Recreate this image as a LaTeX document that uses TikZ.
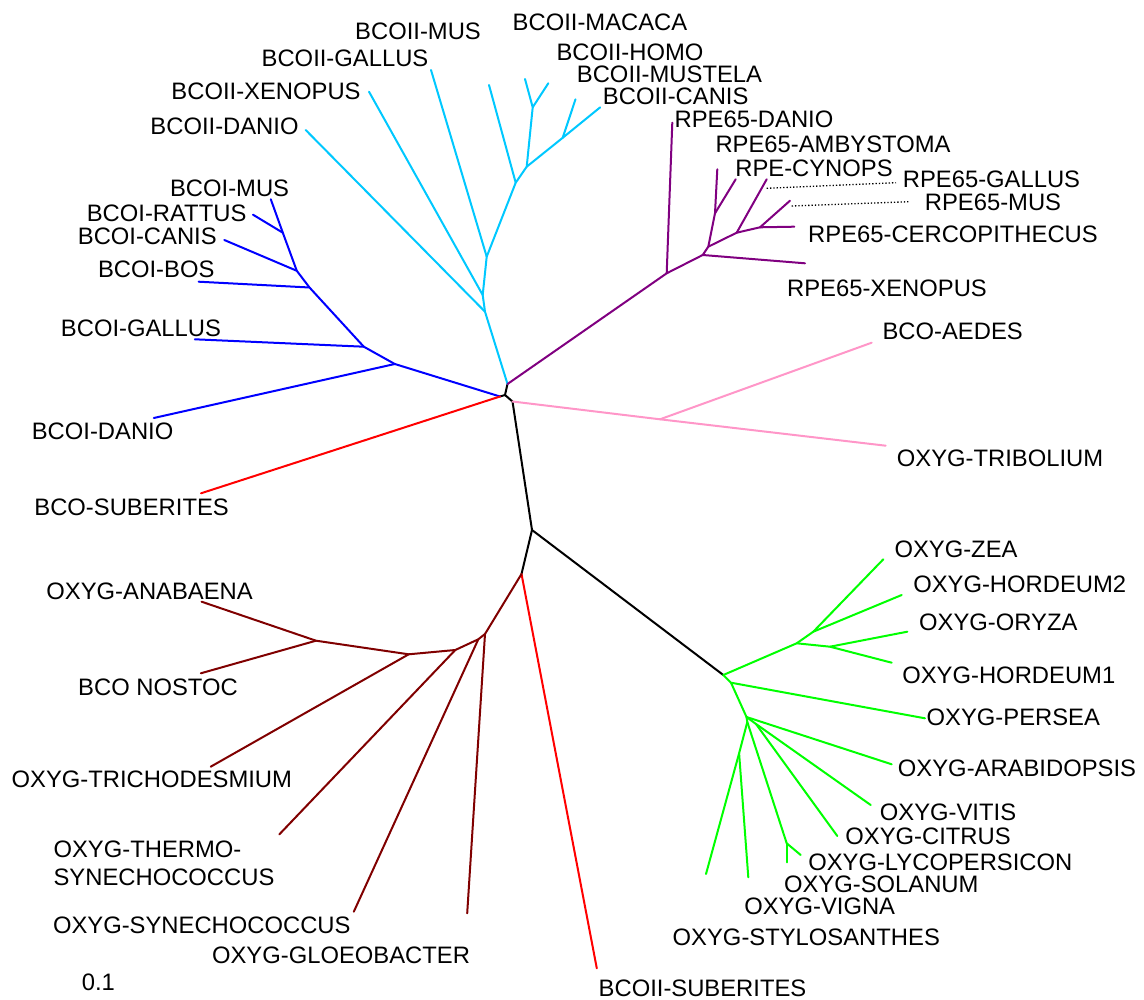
\documentclass[tikz,border=0pt]{standalone}
\usepackage{fontspec}
\setmainfont{Liberation Sans}
\definecolor{cyanc}{RGB}{0,200,255}
\definecolor{bluec}{RGB}{0,0,255}
\definecolor{redc}{RGB}{255,0,0}
\definecolor{purc}{RGB}{128,0,128}
\definecolor{pinkc}{RGB}{255,150,200}
\definecolor{brownc}{RGB}{128,0,0}
\definecolor{greenc}{RGB}{0,255,0}
\begin{document}
\begin{tikzpicture}[x=1pt,y=-1pt,
  edge/.style={line width=2pt,line cap=round,line join=round},
  dotlink/.style={dotted,line width=1.3pt},
  lbl/.style={font=\fontsize{23.8}{28}\selectfont,inner sep=0pt,anchor=base}]
\useasboundingbox (0,0) rectangle (1144,1000);
% core
\coordinate (A) at (507.5,384);
\coordinate (B) at (505,395);
\coordinate (Bb) at (500,396.5);
\coordinate (C) at (512.5,401.5);
\coordinate (D) at (532,530);
\coordinate (E) at (521.5,574);
% cyan
\coordinate (N1) at (485,311.7);
\coordinate (N2) at (482.7,295);
\coordinate (N3) at (486.7,256.7);
\coordinate (N4) at (515.7,182.7);
\coordinate (N5) at (526.7,166.7);
\coordinate (N6) at (532.7,107.3);
\coordinate (N7) at (562.7,137.8);
\coordinate (cDanio) at (305.7,130);
\coordinate (cXen) at (369,91.7);
\coordinate (cGal) at (431,70);
\coordinate (cMus) at (489,85);
\coordinate (cMac) at (525,79);
\coordinate (cHomo) at (548.3,83.3);
\coordinate (cMust) at (575.5,99.3);
\coordinate (cCanis) at (600.2,107.3);
% blue
\coordinate (b1) at (394.8,364);
\coordinate (b2) at (363.8,346.7);
\coordinate (b3) at (309.5,287.5);
\coordinate (b4) at (296.8,270.8);
\coordinate (b5) at (282.8,232.7);
\coordinate (bDanio) at (153.8,418);
\coordinate (bGal) at (194.8,339.3);
\coordinate (bBos) at (198.6,281.7);
\coordinate (bCanis) at (224.3,240);
\coordinate (bRat) at (253,214.7);
\coordinate (bMus) at (270.8,199.3);
\coordinate (rSub) at (201,493.3);
% purple
\coordinate (p1) at (666.7,273.3);
\coordinate (p2) at (702.7,255);
\coordinate (p3) at (708.3,246.7);
\coordinate (p4) at (715,213.3);
\coordinate (p5) at (736.7,232.7);
\coordinate (p6) at (760,227.3);
\coordinate (pDanio) at (672.3,122.7);
\coordinate (pXen) at (805,263.3);
\coordinate (pAmb) at (717.3,169.3);
\coordinate (pCyn) at (735.7,179.3);
\coordinate (pGal) at (766.7,179.3);
\coordinate (pMus) at (790,200.7);
\coordinate (pCerc) at (794.3,226.7);
\coordinate (dG1) at (766.7,188.3);
\coordinate (dG2) at (896,182.7);
\coordinate (dM1) at (791.7,206);
\coordinate (dM2) at (910,201.7);
% pink
\coordinate (k1) at (660,419.3);
\coordinate (kAedes) at (871.7,342.7);
\coordinate (kTrib) at (885.7,445.7);
% red 2
\coordinate (rSub2) at (596.8,968.3);
% brown
\coordinate (r1) at (485,634);
\coordinate (r2) at (478.3,639.3);
\coordinate (r3) at (455.3,650);
\coordinate (r4) at (408.7,654.3);
\coordinate (r5) at (316,640.7);
\coordinate (wAna) at (201.6,601.7);
\coordinate (wNos) at (200.8,673.3);
\coordinate (wTri) at (210.7,766.7);
\coordinate (wThe) at (279.4,834.3);
\coordinate (wSyn) at (353.8,911.7);
\coordinate (wGlo) at (467.2,913.3);
% green
\coordinate (G0) at (723.3,675);
\coordinate (g1) at (796.7,643.3);
\coordinate (g2) at (813.3,631.7);
\coordinate (g3) at (830,646.7);
\coordinate (g4) at (731,682.7);
\coordinate (g5) at (746.5,717);
\coordinate (g5b) at (747.3,722);
\coordinate (g6) at (756,724);
\coordinate (g8) at (739.1,753.3);
\coordinate (g9) at (786.7,843.3);
\coordinate (zea) at (883.3,559.3);
\coordinate (hor2) at (901.7,595);
\coordinate (ory) at (907.3,631.7);
\coordinate (hor1) at (891.7,662.7);
\coordinate (pers) at (925,718.3);
\coordinate (arab) at (891.7,764.3);
\coordinate (vitis) at (870.7,805);
\coordinate (citrus) at (837.3,836);
\coordinate (lyco) at (800.7,855);
\coordinate (sol) at (786.7,862.3);
\coordinate (vigna) at (748.3,877.3);
\coordinate (stylo) at (706,874);

% edges
\draw[edge,black] (A) -- (B) -- (C) -- (D) -- (E);
\draw[edge,black] (B) -- (Bb);
\draw[edge,black] (D) -- (G0);

\draw[edge,cyanc] (A) -- (N1) -- (N2) -- (N3) -- (N4) -- (N5) -- (N6) -- (cMac);
\draw[edge,cyanc] (N6) -- (cHomo);
\draw[edge,cyanc] (N5) -- (N7) -- (cMust);
\draw[edge,cyanc] (N7) -- (cCanis);
\draw[edge,cyanc] (N4) -- (cMus);
\draw[edge,cyanc] (N3) -- (cGal);
\draw[edge,cyanc] (N2) -- (cXen);
\draw[edge,cyanc] (N1) -- (cDanio);

\draw[edge,bluec] (Bb) -- (b1) -- (b2) -- (b3) -- (b4) -- (b5) -- (bMus);
\draw[edge,bluec] (b5) -- (bRat);
\draw[edge,bluec] (b4) -- (bCanis);
\draw[edge,bluec] (b3) -- (bBos);
\draw[edge,bluec] (b2) -- (bGal);
\draw[edge,bluec] (b1) -- (bDanio);

\draw[edge,redc] (Bb) -- (rSub);
\draw[edge,redc] (E) -- (rSub2);

\draw[edge,purc] (A) -- (p1) -- (p2) -- (p3) -- (p4) -- (pAmb);
\draw[edge,purc] (p4) -- (pCyn);
\draw[edge,purc] (p3) -- (p5) -- (pGal);
\draw[edge,purc] (p5) -- (p6) -- (pMus);
\draw[edge,purc] (p6) -- (pCerc);
\draw[edge,purc] (p2) -- (pXen);
\draw[edge,purc] (p1) -- (pDanio);
\draw[dotlink] (dG1) -- (dG2);
\draw[dotlink] (dM1) -- (dM2);

\draw[edge,pinkc] (C) -- (k1) -- (kAedes);
\draw[edge,pinkc] (k1) -- (kTrib);

\draw[edge,brownc] (E) -- (r1) -- (r2) -- (r3) -- (r4) -- (r5) -- (wAna);
\draw[edge,brownc] (r5) -- (wNos);
\draw[edge,brownc] (r4) -- (wTri);
\draw[edge,brownc] (r3) -- (wThe);
\draw[edge,brownc] (r2) -- (wSyn);
\draw[edge,brownc] (r1) -- (wGlo);

\draw[edge,greenc] (G0) -- (g1) -- (g2) -- (zea);
\draw[edge,greenc] (g2) -- (hor2);
\draw[edge,greenc] (g1) -- (g3) -- (ory);
\draw[edge,greenc] (g3) -- (hor1);
\draw[edge,greenc] (G0) -- (g4) -- (pers);
\draw[edge,greenc] (g4) -- (g5) -- (arab);
\draw[edge,greenc] (g5) -- (g6) -- (vitis);
\draw[edge,greenc] (g6) -- (citrus);
\draw[edge,greenc] (g5) -- (g5b) -- (g8) -- (stylo);
\draw[edge,greenc] (g8) -- (vigna);
\draw[edge,greenc] (g5b) -- (g9) -- (lyco);
\draw[edge,greenc] (g9) -- (sol);

% labels
\node[lbl] (lcMus) at (418,40) {BCOII-MUS};
\node[lbl] (lcGal) at (345,67) {BCOII-GALLUS};
\node[lbl] (lcXen) at (266,100) {BCOII-XENOPUS};
\node[lbl] (lcDanio) at (224.5,135) {BCOII-DANIO};
\node[lbl] (lcMac) at (600,31) {BCOII-MACACA};
\node[lbl] (lcHomo) at (630,61) {BCOII-HOMO};
\node[lbl] (lcMust) at (669.5,82.5) {BCOII-MUSTELA};
\node[lbl] (lcCanis) at (675.7,104.5) {BCOII-CANIS};

\node[lbl] (lbMus) at (229.6,196.5) {BCOI-MUS};
\node[lbl] (lbRat) at (166.6,221.5) {BCOI-RATTUS};
\node[lbl] (lbCanis) at (147.3,245) {BCOI-CANIS};
\node[lbl] (lbBos) at (156.2,278) {BCOI-BOS};
\node[lbl] (lbGal) at (141,336.5) {BCOI-GALLUS};
\node[lbl] (lbDanio) at (102.6,439) {BCOI-DANIO};
\node[lbl] (lrSub) at (131.6,515) {BCO-SUBERITES};

\node[lbl] (lpDanio) at (754,128) {RPE65-DANIO};
\node[lbl] (lpAmb) at (833,153) {RPE65-AMBYSTOMA};
\node[lbl] (lpCyn) at (814,177) {RPE-CYNOPS};
\node[lbl] (lpGal) at (991.5,188) {RPE65-GALLUS};
\node[lbl] (lpMus) at (993,210.5) {RPE65-MUS};
\node[lbl] (lpCerc) at (953,242.5) {RPE65-CERCOPITHECUS};
\node[lbl] (lpXen) at (887,297) {RPE65-XENOPUS};

\node[lbl] (lkAedes) at (952.7,340) {BCO-AEDES};
\node[lbl] (lkTrib) at (1000,466.5) {OXYG-TRIBOLIUM};

\node[lbl] (lwAna) at (149.6,599) {OXYG-ANABAENA};
\node[lbl] (lwNos) at (158,695) {BCO NOSTOC};
\node[lbl] (lwTri) at (151.8,787) {OXYG-TRICHODESMIUM};
\node[lbl,anchor=north west,align=left] (lwThe) at (53.4,840.7) {OXYG-THERMO-\\SYNECHOCOCCUS};
\node[lbl] (lwSyn) at (201.8,933) {OXYG-SYNECHOCOCCUS};
\node[lbl] (lwGlo) at (341,963) {OXYG-GLOEOBACTER};
\node[lbl] (lscale) at (98.4,990) {0.1};
\node[lbl] (lrSub2) at (702.5,996.5) {BCOII-SUBERITES};

\node[lbl] (lzea) at (956,557) {OXYG-ZEA};
\node[lbl] (lhor2) at (1019.7,592.5) {OXYG-HORDEUM2};
\node[lbl] (lory) at (998.3,630) {OXYG-ORYZA};
\node[lbl] (lhor1) at (1008.8,683) {OXYG-HORDEUM1};
\node[lbl] (lpers) at (1013.3,725.5) {OXYG-PERSEA};
\node[lbl] (larab) at (1017,776.5) {OXYG-ARABIDOPSIS};
\node[lbl] (lvitis) at (948,820) {OXYG-VITIS};
\node[lbl] (lcitrus) at (928,844) {OXYG-CITRUS};
\node[lbl] (llyco) at (940.3,870.5) {OXYG-LYCOPERSICON};
\node[lbl] (lsol) at (881.3,892.5) {OXYG-SOLANUM};
\node[lbl] (lvigna) at (819.7,914) {OXYG-VIGNA};
\node[lbl] (lstylo) at (806.3,945) {OXYG-STYLOSANTHES};
\end{tikzpicture}
\end{document}
